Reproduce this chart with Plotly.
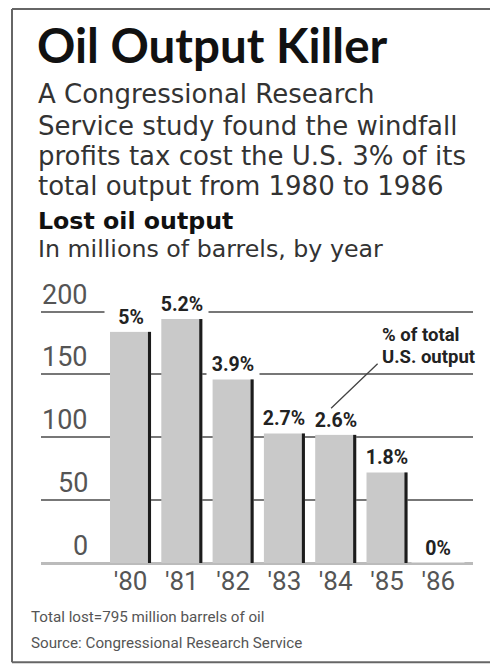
import plotly.graph_objects as go

# ---- data ----
years = [1980, 1981, 1982, 1983, 1984, 1985, 1986]
year_labels = ["'80", "'81", "'82", "'83", "'84", "'85", "'86"]
lost_output = [184, 194, 146, 103, 102, 72, 0]
pct_labels = ["5%", "5.2%", "3.9%", "2.7%", "2.6%", "1.8%", "0%"]
y_ticks = [0, 50, 100, 150, 200]
y_tick_labels = ["0", "50", "100", "150", "200"]

title = "Oil Output Killer"
subtitle_lines = [
    "A Congressional Research",
    "Service study found the windfall",
    "profits tax cost the U.S. 3% of its",
    "total output from 1980 to 1986",
]
chart_title = "Lost oil output"
chart_sub = "In millions of barrels, by year"
footer_lines = ["Total lost=795 million barrels of oil",
                "Source: Congressional Research Service"]
callout_lines = ["% of total", "U.S. output"]

# ---- layout geometry ----
W, H = 490, 664
Y_MAX = 202
ML, MR, MB = 41, 17, 101
MT = H - MB - Y_MAX * 1.255
PW, PH = W - ML - MR, H - MT - MB


def px(x):
    return (x - ML) / PW


def py(y):
    return (H - MB - y) / PH


NARROW = "Roboto, sans-serif"
NUM = "Roboto, sans-serif"

fig = go.Figure()
fig.add_trace(go.Bar(
    x=years, y=lost_output, width=0.8, offset=-0.4,
    marker=dict(color="#c9c9c9", line=dict(width=0)),
    hoverinfo="skip", showlegend=False,
))
fig.add_trace(go.Bar(
    x=years, y=lost_output, width=0.06, offset=0.34,
    marker=dict(color="#1c1c1c", line=dict(width=0)),
    hoverinfo="skip", showlegend=False,
))

annotations = []
# percentage labels above bars
for yr, v, lab in zip(years, lost_output, pct_labels):
    annotations.append(dict(
        x=yr, y=v, xref="x", yref="y", text=lab, showarrow=False,
        xanchor="center", yanchor="bottom", bgcolor="white", borderpad=2,
        width=48, font=dict(family=NARROW, size=19.5, color="#222", weight="bold"),
    ))
# y tick labels (above gridlines, right aligned)
for t, lab in zip(y_ticks, y_tick_labels):
    annotations.append(dict(
        x=px(89), y=t, xref="paper", yref="y", text=lab, showarrow=False,
        xanchor="right", yanchor="bottom", borderpad=0,
        font=dict(family=NUM, size=27, color="#555"),
    ))
# callout text
for i, line in enumerate(callout_lines):
    annotations.append(dict(
        x=px(381), y=py(323 + 22 * i), xref="paper", yref="paper", text=line,
        showarrow=False, xanchor="left", yanchor="top", borderpad=0,
        font=dict(family=NARROW, size=18.5, color="#222", weight="bold"),
    ))
# callout leader line to the '84 label
annotations.append(dict(
    x=years[4] - 0.09, y=lost_output[4] + 21, xref="x", yref="y", text="",
    showarrow=True, arrowhead=0, arrowwidth=1.3, arrowcolor="#444",
    ax=48, ay=-46, standoff=0,
))


def text_ann(txt, x, baseline, size, family, color, descent, weight="normal"):
    return dict(
        x=px(x), y=py(baseline + descent * size), xref="paper", yref="paper",
        text=txt, showarrow=False, xanchor="left", yanchor="bottom", borderpad=0,
        font=dict(family=family, size=size, color=color, weight=weight),
    )


annotations.append(text_ann(title, 36, 65, 47.5, "Lato, sans-serif", "#111", 0.213, "bold"))
for i, (line, base) in enumerate(zip(subtitle_lines, [105, 137, 167, 197])):
    annotations.append(text_ann(line, 37, base, 26, "DejaVu Sans, sans-serif", "#333", 0.236))
annotations.append(text_ann(chart_title, 37, 231, 23.7, "DejaVu Sans, sans-serif", "#111", 0.236, "bold"))
annotations.append(text_ann(chart_sub, 37, 259, 23.7, "DejaVu Sans, sans-serif", "#333", 0.236))
for line, base in zip(footer_lines, [623, 649]):
    annotations.append(text_ann(line, 30, base, 15.2, NARROW, "#555", 0.244))

# frame lines (left, top, bottom)
shapes = [
    dict(type="line", xref="paper", yref="paper", x0=px(12), x1=px(12), y0=py(10), y1=py(662),
         line=dict(color="#666", width=2)),
    dict(type="line", xref="paper", yref="paper", x0=px(12), x1=px(490), y0=py(10), y1=py(10),
         line=dict(color="#666", width=2)),
    dict(type="line", xref="paper", yref="paper", x0=px(12), x1=px(490), y0=py(662), y1=py(662),
         line=dict(color="#666", width=2)),
]

fig.update_layout(
    width=W, height=H, margin=dict(l=ML, r=MR, t=MT, b=MB, pad=0),
    paper_bgcolor="white", plot_bgcolor="white",
    barmode="overlay", showlegend=False,
    annotations=annotations, shapes=shapes,
    xaxis=dict(
        range=[1978.255, 1986.676], tickvals=years, ticktext=year_labels,
        showgrid=False, zeroline=False, showline=False, ticks="",
        tickfont=dict(family=NUM, size=26, color="#555"), fixedrange=True,
    ),
    yaxis=dict(
        range=[0, Y_MAX], tickvals=y_ticks, showticklabels=False, ticks="",
        showgrid=True, gridcolor="#777", gridwidth=1.5,
        zeroline=True, zerolinecolor="#bbb", zerolinewidth=3,
        showline=False, fixedrange=True,
    ),
)

fig.write_html(
    "out.html",
    config={"displayModeBar": False},
    post_script="document.body.style.margin='0';",
)
